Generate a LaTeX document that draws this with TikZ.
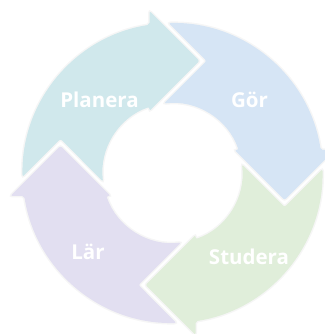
\documentclass[tikz,border=0pt]{standalone}
\usepackage{fontspec}
\setmainfont{Open Sans}
\definecolor{cplan}{HTML}{D0E8EC}
\definecolor{cgor}{HTML}{D6E5F5}
\definecolor{cstud}{HTML}{E0EEDA}
\definecolor{clar}{HTML}{E2DFF1}
\newcommand\cycleseg[2]{%
  \begin{scope}[shift={(C)},rotate=#2]
    \path[#1] (181.5:150) arc[start angle=181.5,end angle=98.82,radius=150]
      -- (-23,162) -- (27,112) -- (-23,62) -- (109.18:70)
      arc[start angle=109.18,end angle=187,radius=70]
      -- (-112,34) -- cycle;
  \end{scope}}
\begin{document}
\begin{tikzpicture}[x=1pt,y=1pt,
  segshadow/.style={draw=black,draw opacity=0.035,line width=3pt,rounded corners=2pt},
  segfill/.style={fill=#1,rounded corners=2pt},
  lbl/.style={text=white,font=\bfseries\fontsize{20.5}{24}\selectfont,anchor=base,inner sep=0pt}]
\fill[white] (0,0) rectangle (324,334);
\useasboundingbox (0,0) rectangle (324,334);
\coordinate (C) at (172.5,161);
\cycleseg{segshadow}{0}
\cycleseg{segshadow}{-90}
\cycleseg{segshadow}{-180}
\cycleseg{segshadow}{90}
\cycleseg{segfill=cplan}{0}
\cycleseg{segfill=cgor}{-90}
\cycleseg{segfill=cstud}{-180}
\cycleseg{segfill=clar}{90}
\node[lbl] (planera) at (99.5,226) {Planera};
\node[lbl] (gor) at (249.5,226) {Gör};
\node[lbl] (studera) at (249,69) {Studera};
\node[lbl] (lar) at (88,74) {Lär};
\end{tikzpicture}
\end{document}
